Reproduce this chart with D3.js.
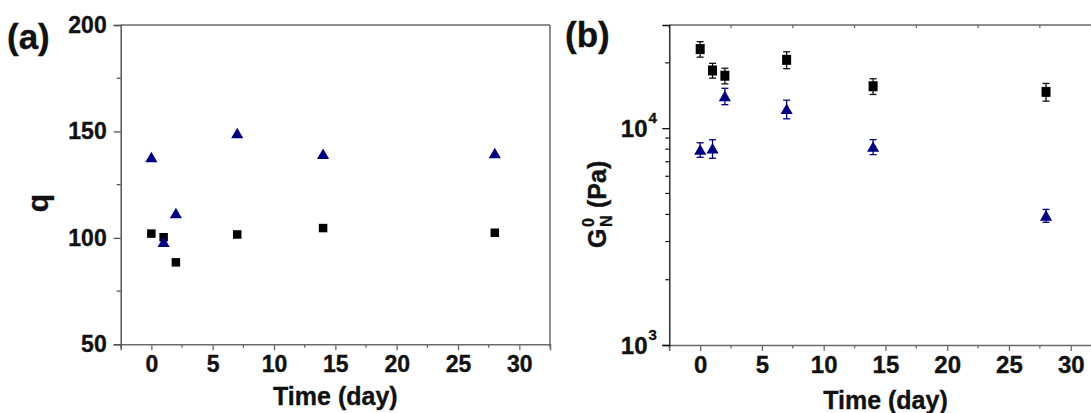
<!DOCTYPE html>
<html><head><meta charset="utf-8">
<script src="https://cdn.jsdelivr.net/npm/d3@7"></script>
<style>
html,body{margin:0;padding:0;background:#fff;}
svg{display:block;font-family:Arial,"Liberation Sans",sans-serif;font-weight:bold;}
svg text{fill:#111;stroke:#111;stroke-width:0.35px;}
</style></head>
<body>
<svg id="c" width="1091" height="413"></svg>
<script>
// ---- data ----
const days = [0, 1, 2, 7, 14, 28];
// panel (a): q
const qSquare = [102, 100.3, 88.5, 101.6, 104.6, 102.4];
const qTriangle = [137.9, 98.1, 111.6, 149.1, 139.4, 139.7];
// panel (b): plateau modulus G_N^0 (Pa)
const gSquare = [23150, 18450, 17450, 20650, 15600, 14700];
const gSquareErr = [1900, 1450, 1450, 1850, 1300, 1380];
const gTriangle = [7950, 8050, 14050, 12250, 8200, 3950];
const gTriangleErr = [610, 790, 1220, 1210, 650, 270];
const xTicks = [0, 5, 10, 15, 20, 25, 30];
const xMinor = [-2.5, 2.5, 7.5, 12.5, 17.5, 22.5, 27.5, 32.5];
const qTicks = [50, 100, 150, 200];
const qMinor = [75, 125, 175];
const gTicks = [1000, 10000];
const gTickExp = ["3", "4"];

const svg = d3.select("#c");
const grey = "#6a6a6a";
const navy = "#000080";
const FONT = "Arial, Liberation Sans, sans-serif";

const tri = d3.symbol().type(d3.symbolTriangle).size(64);

// ================= Panel (a) =================
{
  const L = 120.7, R = 550, T = 25, B = 344.3;
  const x = d3.scaleLinear().domain([-2.5, 32.5]).range([L, R]);
  const y = d3.scaleLinear().domain([50, 200]).range([B, T]);
  const g = svg.append("g");
  // frame
  g.append("line").attr("x1", L).attr("x2", R).attr("y1", T).attr("y2", T).attr("stroke", grey).attr("stroke-width", 1.5);
  g.append("line").attr("x1", R).attr("x2", R).attr("y1", T).attr("y2", B).attr("stroke", grey).attr("stroke-width", 1.5);
  // x axis
  const xa = g.append("g").attr("transform", `translate(0,${B})`)
    .call(d3.axisBottom(x).tickValues(xTicks).tickSize(6).tickPadding(5).tickFormat(d3.format("d")));
  xa.select(".domain").attr("stroke", grey).attr("stroke-width", 1.5);
  xa.selectAll(".tick line").attr("stroke", grey).attr("stroke-width", 1.3);
  xa.selectAll("text").attr("font-size", 23).attr("font-weight", "bold").attr("font-family", FONT);
  g.append("g").selectAll("line").data(xMinor).join("line")
    .attr("x1", d => x(d)).attr("x2", d => x(d)).attr("y1", B).attr("y2", B + 3.5).attr("stroke", grey).attr("stroke-width", 1.3);
  // y axis
  const ya = g.append("g").attr("transform", `translate(${L},0)`)
    .call(d3.axisLeft(y).tickValues(qTicks).tickSize(7).tickPadding(7).tickFormat(d3.format("d")));
  ya.select(".domain").attr("stroke", "#555").attr("stroke-width", 1.5);
  ya.selectAll(".tick line").attr("stroke", "#555").attr("stroke-width", 1.3);
  ya.selectAll("text").attr("font-size", 23).attr("font-weight", "bold").attr("font-family", FONT);
  g.append("g").selectAll("line").data(qMinor).join("line")
    .attr("x1", L).attr("x2", L - 4).attr("y1", d => y(d)).attr("y2", d => y(d)).attr("stroke", "#555").attr("stroke-width", 1.3);
  // markers
  g.append("g").selectAll("rect").data(days).join("rect")
    .attr("x", d => x(d) - 4.25).attr("y", (d, i) => y(qSquare[i]) - 4.25)
    .attr("width", 8.5).attr("height", 8.5).attr("fill", "#000");
  g.append("g").selectAll("path").data(days).join("path")
    .attr("d", tri).attr("fill", navy)
    .attr("transform", (d, i) => `translate(${x(d)},${y(qTriangle[i]) + 1.5})`);
  // labels
  g.append("text").attr("x", 7).attr("y", 49).attr("font-size", 35).text("(a)");
  g.append("text").attr("transform", "translate(48,203) rotate(-90)").attr("text-anchor", "middle").attr("font-size", 30).text("q");
  g.append("text").attr("x", (L + R) / 2).attr("y", 405).attr("text-anchor", "middle").attr("font-size", 25).text("Time (day)");
}

// ================= Panel (b) =================
{
  const L = 669.3, R = 1101.6, T = 25, B = 345;
  const x = d3.scaleLinear().domain([-2.5, 32.5]).range([L, R]);
  const y = d3.scaleLog().domain([1000, 29900]).range([B, T]);
  const g = svg.append("g");
  g.append("line").attr("x1", L).attr("x2", R).attr("y1", T).attr("y2", T).attr("stroke", grey).attr("stroke-width", 1.5);
  g.append("g").selectAll("line").data(xMinor).join("line")
    .attr("x1", d => x(d)).attr("x2", d => x(d)).attr("y1", T).attr("y2", T + 3).attr("stroke", grey).attr("stroke-width", 1.3);
  // x axis
  const xa = g.append("g").attr("transform", `translate(0,${B})`)
    .call(d3.axisBottom(x).tickValues(xTicks).tickSize(6).tickPadding(5).tickFormat(d3.format("d")));
  xa.select(".domain").attr("stroke", grey).attr("stroke-width", 1.5);
  xa.selectAll(".tick line").attr("stroke", grey).attr("stroke-width", 1.3);
  xa.selectAll("text").attr("font-size", 24).attr("font-weight", "bold").attr("font-family", FONT);
  g.append("g").selectAll("line").data(xMinor).join("line")
    .attr("x1", d => x(d)).attr("x2", d => x(d)).attr("y1", B).attr("y2", B + 3.5).attr("stroke", grey).attr("stroke-width", 1.3);
  // y axis (log)
  const minorVals = [];
  [1000, 10000].forEach(dec => { for (let k = 2; k <= 9; k++) { const v = dec * k; if (v <= 29900) minorVals.push(v); } });
  const ya = g.append("g").attr("transform", `translate(${L},0)`)
    .call(d3.axisLeft(y).tickValues(gTicks).tickSize(7).tickFormat(""));
  ya.select(".domain").attr("stroke", "#111").attr("stroke-width", 1.3);
  ya.selectAll(".tick line").attr("stroke", "#111").attr("stroke-width", 1.3);
  g.append("g").selectAll("line").data(minorVals).join("line")
    .attr("x1", L).attr("x2", L - 4).attr("y1", d => y(d)).attr("y2", d => y(d)).attr("stroke", "#111").attr("stroke-width", 1.2);
  gTicks.forEach((v, i) => {
    g.append("text").attr("x", 647.5).attr("y", y(v) + 9).attr("text-anchor", "end").attr("font-size", 24).text("10");
    g.append("text").attr("x", 648.5).attr("y", y(v) - 5).attr("font-size", 15).text(gTickExp[i]);
  });
  // error bars + markers
  function errbars(vals, errs, color) {
    const eg = g.append("g").attr("stroke", color).attr("stroke-width", 1.3);
    days.forEach((d, i) => {
      const cx = x(d), y1 = y(vals[i] + errs[i]), y2 = y(vals[i] - errs[i]);
      eg.append("line").attr("x1", cx).attr("x2", cx).attr("y1", y1).attr("y2", y2);
      eg.append("line").attr("x1", cx - 3.5).attr("x2", cx + 3.5).attr("y1", y1).attr("y2", y1);
      eg.append("line").attr("x1", cx - 3.5).attr("x2", cx + 3.5).attr("y1", y2).attr("y2", y2);
    });
  }
  errbars(gSquare, gSquareErr, "#111");
  errbars(gTriangle, gTriangleErr, navy);
  g.append("g").selectAll("rect").data(days).join("rect")
    .attr("x", d => x(d) - 4.5).attr("y", (d, i) => y(gSquare[i]) - 5)
    .attr("width", 9).attr("height", 10).attr("fill", "#000");
  g.append("g").selectAll("path").data(days).join("path")
    .attr("d", tri).attr("fill", navy)
    .attr("transform", (d, i) => `translate(${x(d)},${y(gTriangle[i]) + 1.5})`);
  // labels
  g.append("text").attr("x", 565).attr("y", 47).attr("font-size", 35).text("(b)");
  g.append("text").attr("x", (L + R) / 2).attr("y", 409).attr("text-anchor", "middle").attr("font-size", 25).text("Time (day)");
  const yl = g.append("g").attr("transform", "translate(606,248) rotate(-90)");
  yl.append("text").attr("x", 0).attr("y", 0).attr("font-size", 25).text("G");
  yl.append("text").attr("x", 21).attr("y", -12).attr("font-size", 16).text("0");
  yl.append("text").attr("x", 21).attr("y", 6).attr("font-size", 16).text("N");
  yl.append("text").attr("x", 40).attr("y", 0).attr("font-size", 25).text("(Pa)");
}
</script>
</body></html>
